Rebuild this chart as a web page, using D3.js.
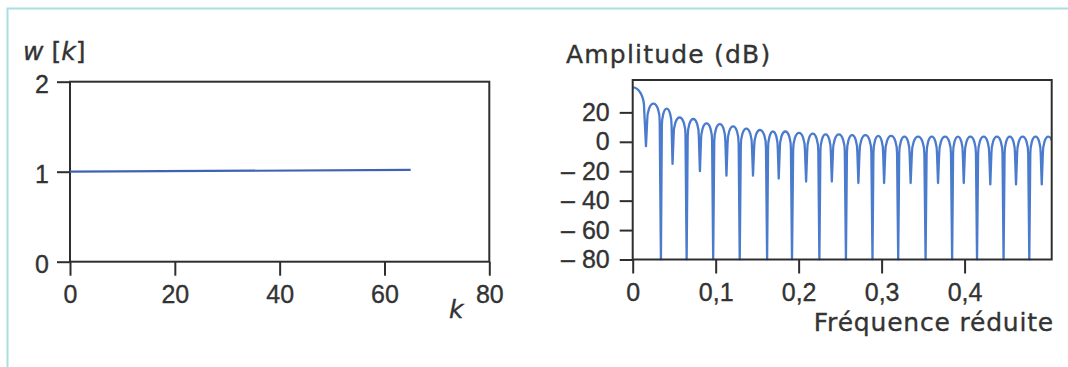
<!DOCTYPE html>
<html>
<head>
<meta charset="utf-8">
<title>Fenêtre rectangulaire</title>
<script src="https://cdnjs.cloudflare.com/ajax/libs/d3/7.8.5/d3.min.js"></script>
<style>
  body { margin: 0; background: #fff; }
  svg { display: block; font-family: "DejaVu Sans", sans-serif; }
  .tick text, .lbl { font-size: 25px; fill: #333; stroke: #333; stroke-width: 0.35px; }
  .tick line { stroke: #2e2e2e; stroke-width: 2; }
</style>
</head>
<body>
<script>
// left panel : the window w[k]
const windowK = [0, 65]
const windowVal = [1, 1.02]
const kTicks = [0, 20, 40, 60, 80]
const wTicks = [0, 1, 2]

// right panel : amplitude spectrum, lobe by lobe
// frequencies of the dips / zeros between lobes
const nullFreq = [0.016, 0.034, 0.048, 0.065, 0.081, 0.097, 0.113, 0.129, 0.145, 0.162,
                  0.176, 0.192, 0.209, 0.225, 0.240, 0.257, 0.272, 0.289, 0.303, 0.320,
                  0.335, 0.353, 0.368, 0.385, 0.399, 0.415, 0.431, 0.447, 0.462, 0.478,
                  0.493, 0.509]
// level reached at each dip (-80 = bottom of the axis)
const nullDb = [-3, -80, -15, -80, -20, -80, -23, -80, -23, -80,
                -25, -80, -27, -80, -27, -80, -28, -80, -28, -80,
                -28, -80, -28, -80, -28, -80, -29, -80, -29, -80,
                -29, -80]
// top of each lobe, main lobe first
const peakDb = [37, 26, 22.5, 16.5, 15.5, 12.5, 12, 10.5, 9, 8,
                7, 7, 6, 5.5, 5, 5, 4.5, 4.5, 4, 4,
                3.5, 3.5, 3.5, 3.5, 3.5, 3.5, 3.5, 3.5, 3.5, 3.5,
                3.5, 3.5]
const freqTicks = [0, 0.1, 0.2, 0.3, 0.4]
const freqLabels = ["0", "0,1", "0,2", "0,3", "0,4"]
const dbTicks = [20, 0, -20, -40, -60, -80]
const dbLabels = ["20", "0", "– 20", "– 40", "– 60", "– 80"]

const W = 1068, H = 367
const frameColor = "#2e2e2e"

let svg = d3.select("body").append("svg")
  .attr("width", W)
  .attr("height", H)

// thin cyan page border (top and left)
svg.append("path")
  .attr("d", "M7.5," + H + "V8.5H" + W)
  .attr("fill", "none")
  .attr("stroke", "#a9dfdf")
  .attr("stroke-width", 2)

// ---------- left panel ----------
const xK = d3.scaleLinear().domain([0, 80]).range([70, 489.3])
const yW = d3.scaleLinear().domain([0, 2]).range([261.7, 81.7])

let left = svg.append("g")

left.append("g")
  .attr("transform", `translate(0,${yW(0)})`)
  .call(d3.axisBottom(xK).tickValues(kTicks).tickSize(14).tickPadding(10).tickSizeOuter(0)
    .tickFormat(d3.format("d")))
  .call(g => g.select(".domain").remove())

left.append("g")
  .attr("transform", `translate(${xK(0)},0)`)
  .call(d3.axisLeft(yW).tickValues(wTicks).tickSize(13).tickPadding(8).tickSizeOuter(0)
    .tickFormat(d3.format("d")))
  .call(g => g.select(".domain").remove())
  .call(g => g.selectAll("text").attr("dy", "0.45em"))

left.append("rect")
  .attr("x", xK(0))
  .attr("y", yW(2))
  .attr("width", xK(80) - xK(0))
  .attr("height", yW(0) - yW(2))
  .attr("fill", "none")
  .attr("stroke", frameColor)
  .attr("stroke-width", 2)

left.append("path")
  .datum(d3.zip(windowK, windowVal))
  .attr("d", d3.line().x(d => xK(d[0])).y(d => yW(d[1])))
  .attr("fill", "none")
  .attr("stroke", "#3f62b2")
  .attr("stroke-width", 2.2)

let wLabel = left.append("text").attr("class", "lbl").attr("x", 23).attr("y", 60)
wLabel.append("tspan").attr("font-style", "italic").text("w")
wLabel.append("tspan").text(" [")
wLabel.append("tspan").attr("font-style", "italic").text("k")
wLabel.append("tspan").text("]")

left.append("text")
  .attr("class", "lbl")
  .attr("x", 449)
  .attr("y", 318)
  .attr("font-style", "italic")
  .text("k")

// ---------- right panel ----------
const xF = d3.scaleLinear().domain([0, 0.505]).range([632.7, 1051.7])
const yDb = d3.scaleLinear().domain([-80, 42]).range([259.5, 80])

let right = svg.append("g")

right.append("g")
  .attr("transform", `translate(0,${yDb(-80)})`)
  .call(d3.axisBottom(xF).tickValues(freqTicks).tickSize(14).tickPadding(10).tickSizeOuter(0)
    .tickFormat((d, i) => freqLabels[i]))
  .call(g => g.select(".domain").remove())

right.append("g")
  .attr("transform", `translate(${xF(0)},0)`)
  .call(d3.axisLeft(yDb).tickValues(dbTicks).tickSize(13).tickPadding(10).tickSizeOuter(0)
    .tickFormat((d, i) => dbLabels[i]))
  .call(g => g.select(".domain").remove())

right.append("clipPath")
  .attr("id", "specClip")
  .append("rect")
  .attr("x", xF(0))
  .attr("y", yDb(42))
  .attr("width", xF(0.505) - xF(0))
  .attr("height", yDb(-80) - yDb(42) + 1)

// each lobe: steep flank from the dip, rounded top at the peak level
const K = 0.5523
const spec = d3.path()
{
  const x0 = xF(0), x1 = xF(nullFreq[0])
  const yp = yDb(peakDb[0]), ys = yDb(peakDb[0] - 14)
  const sx = x1 - (x1 - x0) * 0.14
  spec.moveTo(x0, yp)
  spec.bezierCurveTo(x0 + (sx - x0) * K, yp, sx, ys + (yp - ys) * K, sx, ys)
  spec.lineTo(x1, yDb(nullDb[0]))
}
for (let i = 1; i < nullFreq.length; i++) {
  const x0 = xF(nullFreq[i - 1]), x1 = xF(nullFreq[i]), xm = (x0 + x1) / 2
  const yp = yDb(peakDb[i]), ys = yDb(peakDb[i] - 12)
  const s0 = x0 + (x1 - x0) * 0.08, s1 = x1 - (x1 - x0) * 0.08
  spec.lineTo(s0, ys)
  spec.bezierCurveTo(s0, ys + (yp - ys) * K, xm - (xm - s0) * K, yp, xm, yp)
  spec.bezierCurveTo(xm + (s1 - xm) * K, yp, s1, ys + (yp - ys) * K, s1, ys)
  spec.lineTo(x1, yDb(nullDb[i]))
}

right.append("path")
  .attr("d", spec.toString())
  .attr("clip-path", "url(#specClip)")
  .attr("fill", "none")
  .attr("stroke", "#4a7bcc")
  .attr("stroke-width", 2.3)
  .attr("stroke-linejoin", "round")

right.append("rect")
  .attr("x", xF(0))
  .attr("y", yDb(42))
  .attr("width", xF(0.505) - xF(0))
  .attr("height", yDb(-80) - yDb(42))
  .attr("fill", "none")
  .attr("stroke", frameColor)
  .attr("stroke-width", 2)

right.append("text")
  .attr("class", "lbl")
  .attr("x", 566)
  .attr("y", 63)
  .attr("letter-spacing", 1.2)
  .text("Amplitude (dB)")

right.append("text")
  .attr("class", "lbl")
  .attr("x", 1054)
  .attr("y", 331)
  .attr("text-anchor", "end")
  .attr("letter-spacing", 0.8)
  .text("Fréquence réduite")
</script>
</body>
</html>
